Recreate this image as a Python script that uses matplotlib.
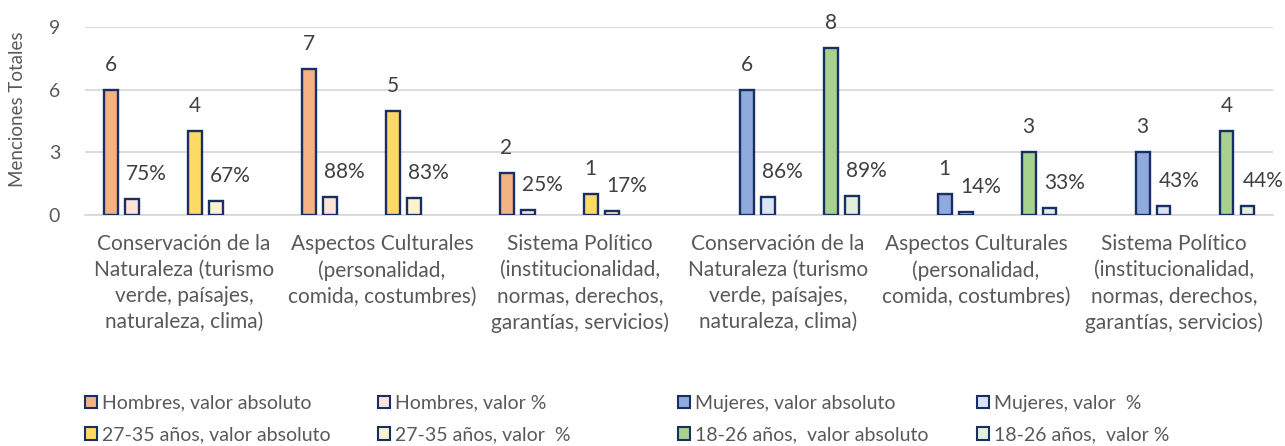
import numpy as np
import matplotlib
matplotlib.use("Agg")
import matplotlib.pyplot as plt
from matplotlib.patches import Patch

plt.rcParams['font.family'] = ['Lato', 'DejaVu Sans']

nan = np.nan
categories = [
    "Conservación de la\nNaturaleza (turismo\nverde, paísajes,\nnaturaleza, clima)",
    "Aspectos Culturales\n(personalidad,\ncomida, costumbres)",
    "Sistema Político\n(institucionalidad,\nnormas, derechos,\ngarantías, servicios)",
    "Conservación de la\nNaturaleza (turismo\nverde, paísajes,\nnaturaleza, clima)",
    "Aspectos Culturales\n(personalidad,\ncomida, costumbres)",
    "Sistema Político\n(institucionalidad,\nnormas, derechos,\ngarantías, servicios)",
]

hombres_abs = [6, 7, 2, nan, nan, nan]
hombres_pct = [0.75, 0.88, 0.25, nan, nan, nan]
mujeres_abs = [nan, nan, nan, 6, 1, 3]
mujeres_pct = [nan, nan, nan, 0.86, 0.14, 0.43]
a2735_abs = [4, 5, 1, nan, nan, nan]
a2735_pct = [0.67, 0.83, 0.17, nan, nan, nan]
a1826_abs = [nan, nan, nan, 8, 3, 4]
a1826_pct = [nan, nan, nan, 0.89, 0.33, 0.44]

series_names = [
    "Hombres, valor absoluto", "Hombres, valor %",
    "Mujeres, valor absoluto", "Mujeres, valor  %",
    "27-35 años, valor absoluto", "27-35 años, valor  %",
    "18-26 años,  valor absoluto", "18-26 años,  valor %",
]
series_values = [hombres_abs, hombres_pct, mujeres_abs, mujeres_pct,
                 a2735_abs, a2735_pct, a1826_abs, a1826_pct]
series_is_pct = [False, True, False, True, False, True, False, True]
series_colors = ['#F4B183', '#FBE5D6', '#8FAADC', '#DAE3F3',
                 '#FFD966', '#FFF2CC', '#A9D18E', '#E2F0D9']
edge = '#172F63'

W, H = 1285, 446
fig = plt.figure(figsize=(W / 100, H / 100), dpi=100)
ax = fig.add_axes([85 / W, 231 / H, 1188 / W, 188 / H])

slot = 21 / 198
bw = 14 / 198
x = np.arange(len(categories))
handles = []
for j, (vals, name, col, ispct) in enumerate(zip(series_values, series_names, series_colors, series_is_pct)):
    vals = np.array(vals, dtype=float)
    mask = ~np.isnan(vals)
    xs = x[mask] + (j - 3.5) * slot
    ax.bar(xs, vals[mask], width=bw, color=col, edgecolor=edge, linewidth=1.7, zorder=3)
    handles.append(Patch(facecolor=col, edgecolor=edge, linewidth=1.5, label=name))
    for xi, v in zip(xs, vals[mask]):
        if ispct:
            ax.annotate(f"{v:.0%}", (xi, v), xytext=(11, 18), textcoords='offset points',
                        ha='center', va='center', fontsize=15, color='#404040')
        else:
            ax.annotate(f"{v:.0f}", (xi, v), xytext=(0, 18), textcoords='offset points',
                        ha='center', va='center', fontsize=15, color='#404040')

ax.set_xlim(-0.5, len(categories) - 0.5)
ax.set_ylim(0, 9)
ax.set_yticks([0, 3, 6, 9])
ax.yaxis.grid(True, color='#D9D9D9', linewidth=1.3, zorder=0)
ax.set_axisbelow(True)
for s in ['top', 'right', 'left']:
    ax.spines[s].set_visible(False)
ax.spines['bottom'].set_color('#D9D9D9')
ax.spines['bottom'].set_linewidth(1.3)
ax.set_xticks(x)
ax.set_xticklabels(categories, fontsize=15, color='#595959', linespacing=1.36)
ax.tick_params(axis='x', length=0, pad=14)
ax.tick_params(axis='y', length=0, pad=18, labelsize=14, labelcolor='#595959')

fig.text(18 / W, 1 - 109 / H, "Menciones Totales", rotation=90, ha='center', va='center',
         fontsize=13.5, color='#595959')

# legend, one column each
col_x = [85, 378, 678, 977]
col_items = [(0, 4), (1, 5), (2, 6), (3, 7)]
for cx, (a, b) in zip(col_x, col_items):
    fig.legend(handles=[handles[a], handles[b]], loc='center left',
               bbox_to_anchor=(cx / W, 1 - 419 / H), frameon=False, fontsize=14,
               handlelength=0.62, handleheight=0.62, handletextpad=0.25,
               borderpad=0, borderaxespad=0, labelspacing=0.75, labelcolor='#595959')

fig.savefig("out.png", dpi=100)
